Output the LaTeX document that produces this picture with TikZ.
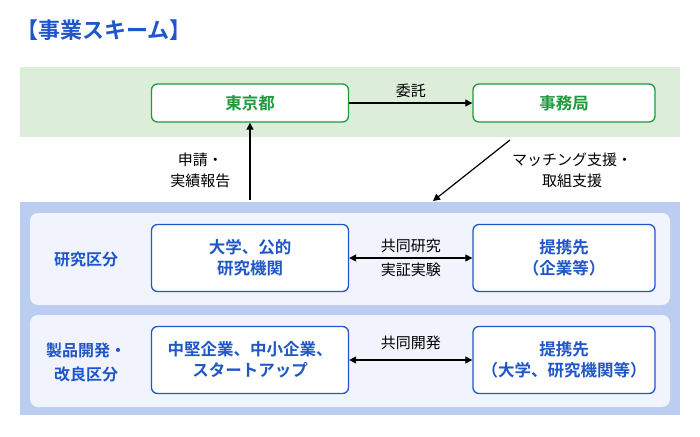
\documentclass[tikz,border=0pt]{standalone}
\usepackage{fontspec}
\setmainfont{Noto Sans CJK JP}[BoldFont={Noto Sans CJK JP Bold}]
\usetikzlibrary{arrows.meta}
\definecolor{gbg}{HTML}{DCEDDA}
\definecolor{gdk}{HTML}{1E9A3C}
\definecolor{bbg}{HTML}{BCCDF2}
\definecolor{bpn}{HTML}{F1F4FD}
\definecolor{bdk}{HTML}{1F56C8}
\begin{document}
\begin{tikzpicture}[x=1pt,y=-1pt,
  gbox/.style={draw=gdk,line width=1.3pt,fill=white,rounded corners=6pt,minimum width=197pt,minimum height=38pt,text=gdk,font=\fontsize{16.5}{20}\selectfont\bfseries,align=center},
  bbox/.style={draw=bdk,line width=1.3pt,fill=white,rounded corners=6pt,minimum width=197pt,minimum height=67pt,text=bdk,font=\fontsize{16.5}{21}\selectfont\bfseries,align=center},
  lab/.style={font=\fontsize{15}{21}\selectfont,align=center},
  blab/.style={text=bdk,font=\fontsize{16}{24}\selectfont\bfseries,align=center},
  arr/.style={-{Triangle[length=7pt,width=7pt]},line width=1.2pt},
  darr/.style={{Triangle[length=7pt,width=7pt]}-{Triangle[length=7pt,width=7pt]},line width=1.2pt}]
\useasboundingbox (0,0) rectangle (700,436);
\node[text=bdk,font=\fontsize{22}{26}\selectfont\bfseries,anchor=west,inner sep=0pt] (title) at (16,30) {【事業スキーム】};
\fill[gbg] (20,67) rectangle (680,137);
\fill[bbg] (20,202) rectangle (680,415);
\fill[bpn,rounded corners=8pt] (30,213) rectangle (670,305);
\fill[bpn,rounded corners=8pt] (30,315) rectangle (670,407);
\node[gbox] (tokyo) at (250,103) {東京都};
\node[gbox,minimum width=182pt] (jim) at (564,103) {事務局};
\draw[arr] (tokyo) -- node[lab,above=1pt] (itaku) {委託} (jim);
\node[bbox] (univ) at (250,258) {大学、公的\\研究機関};
\node[bbox,minimum width=182pt] (partner1) at (564,258) {提携先\\（企業等）};
\node[bbox] (smes) at (250,360) {中堅企業、中小企業、\\スタートアップ};
\node[bbox,minimum width=182pt] (partner2) at (564,360) {提携先\\（大学、研究機関等）};
\node[blab] (kenkyu) at (86,259) {研究区分};
\node[blab] (seihin) at (86,362) {製品開発・\\改良区分};
\draw[darr] (univ) -- node[lab,above=1pt] (kyodo1) {共同研究} node[lab,below=1pt] (jissho) {実証実験} (partner1);
\draw[darr] (smes) -- node[lab,above=6pt] (kyodo2) {共同開発} (partner2);
\coordinate (upS) at (250,200);
\draw[arr] (upS) -- (tokyo.south);
\node[lab,anchor=east] (shinsei) at (234,170) {申請・\\実績報告};
\coordinate (dS) at (510,140);
\coordinate (dE) at (433,201);
\draw[arr] (dS) -- (dE);
\node[lab,anchor=center] (match) at (572,170) {マッチング支援・\\取組支援};
\end{tikzpicture}
\end{document}
